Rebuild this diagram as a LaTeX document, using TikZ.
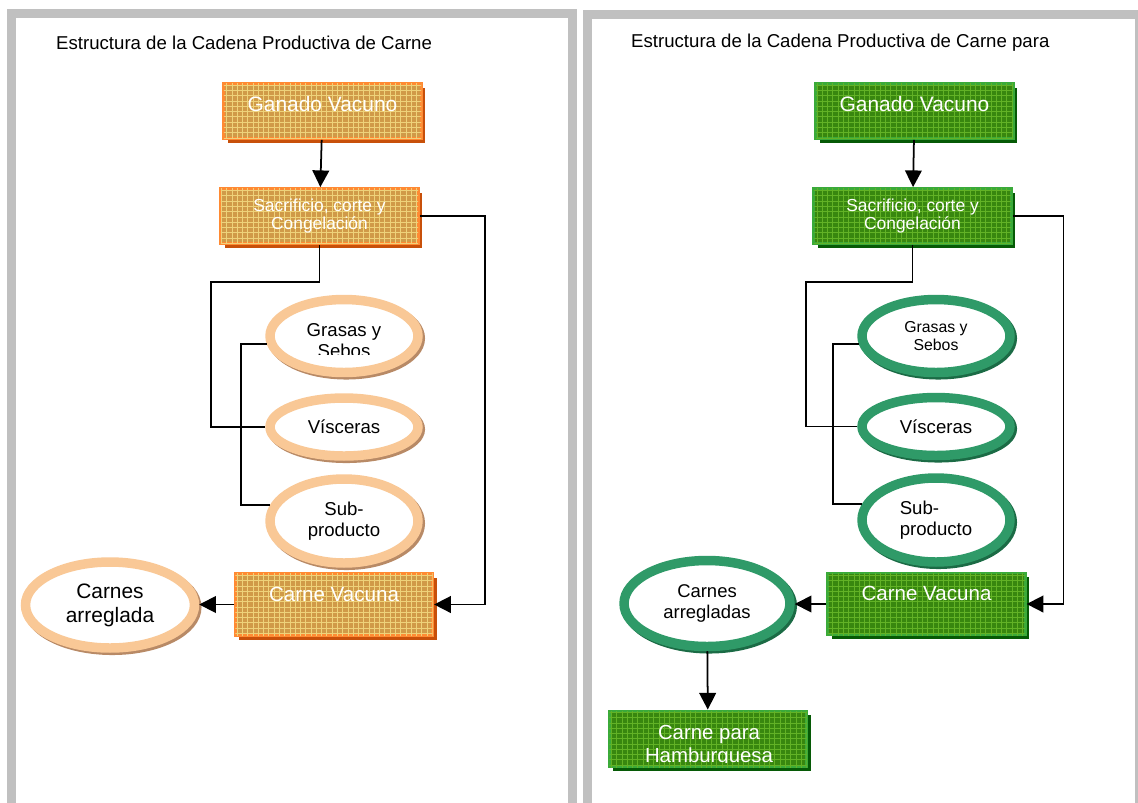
\documentclass[tikz,border=0pt]{standalone}
\usepackage{fontspec}
\setmainfont{Liberation Sans}
\usetikzlibrary{shapes.geometric,arrows.meta,patterns,shadows}

\definecolor{panelgray}{HTML}{C0C0C0}
\definecolor{ofill}{HTML}{D09A48}
\definecolor{ogrid}{HTML}{EED27A}
\definecolor{oline}{HTML}{FF8A33}
\definecolor{oshade}{HTML}{C8500A}
\definecolor{oringc}{HTML}{F9C896}
\definecolor{oringshade}{HTML}{B88A66}
\definecolor{gfill}{HTML}{38870F}
\definecolor{ggrid}{HTML}{62B226}
\definecolor{gline}{HTML}{3AAA3A}
\definecolor{gshade}{HTML}{065A06}
\definecolor{gringc}{HTML}{2F9A68}
\definecolor{gringshade}{HTML}{1B6B45}

\tikzset{
  panel/.style={draw=panelgray, line width=5.1pt},
  heading/.style={anchor=west, font=\fontsize{10.6}{12}\selectfont},
  obox/.style={rectangle, draw=oline, line width=1.6pt, fill=ofill,
    postaction={pattern=grid, pattern color=ogrid},
    drop shadow={shadow xshift=2.3pt, shadow yshift=-2.3pt, fill=oshade, opacity=1},
    minimum width=3.95cm, minimum height=1.1cm, text=white, align=center},
  gbox/.style={rectangle, draw=gline, line width=1.6pt, fill=gfill,
    postaction={pattern=grid, pattern color=ggrid},
    drop shadow={shadow xshift=2.3pt, shadow yshift=-2.3pt, fill=gshade, opacity=1},
    minimum width=3.95cm, minimum height=1.1cm, text=white, align=center},
  boxtext/.style={text=white, align=center},
  orangering/.style={ellipse, draw=oringc, line width=5.4pt, fill=white,
    preaction={draw=oringshade, line width=5.4pt, transform canvas={shift={(1.3pt,-1.3pt)}}},
    align=center, font=\fontsize{10.6}{11.9}\selectfont},
  greenring/.style={ellipse, draw=gringc, line width=5.4pt, fill=white,
    preaction={draw=gringshade, line width=5.4pt, transform canvas={shift={(1.3pt,-1.3pt)}}},
    align=center, font=\fontsize{10.6}{11.9}\selectfont},
  link/.style={line width=1pt},
  arr/.style={line width=1pt, -{Triangle[length=9.5pt,width=9.5pt]}},
}

\begin{document}
\begin{tikzpicture}[x=0.02cm,y=-0.02cm]
\useasboundingbox (0,0) rectangle (1138,802);
\draw[panel] (11.5,13.5) rectangle (572.5,840);
\draw[panel] (587.5,14.5) rectangle (1139.5,840);

% cadena de carne
\node[heading] (titA) at (50,43) {Estructura de la Cadena Productiva de Carne};
\node[obox] (gvA) at (322.5,111) {};
\node[boxtext, font=\fontsize{11.9}{13}\selectfont] (gvAt) at ([yshift=4pt]gvA.center) {Ganado Vacuno};
\node[obox, font=\fontsize{9.9}{10.8}\selectfont] (scA) at (319.5,216) {Sacrificio, corte y\\Congelación};
\node[obox, minimum height=1.24cm] (cvA) at (334,604.5) {};
\node[boxtext, font=\fontsize{11.7}{13}\selectfont] (cvAt) at ([yshift=6pt]cvA.center) {Carne Vacuna};
\node[orangering, minimum width=2.96cm, minimum height=1.46cm] (gsA) at (344,336) {};
\begin{scope}
  \clip (250,300) rectangle (440,354.5);
  \node[align=center, font=\fontsize{10.6}{11.9}\selectfont] (gsAt) at (344,341) {Grasas y\\Sebos};
\end{scope}
\node[orangering, minimum width=2.96cm, minimum height=1.16cm] (viA) at (344,427) {Vísceras};
\node[orangering, minimum width=2.96cm, minimum height=1.68cm] (spA) at (344,521) {Sub-\\producto};
\node[orangering, minimum width=3.38cm, minimum height=1.72cm, font=\fontsize{11.9}{13.6}\selectfont] (caA) at (110,605) {Carnes\\arreglada};

\draw[arr] (gvA) -- (scA);
\draw[link] (scA.south) |- (211,282) |- (viA.west);
\draw[arr] (scA.east) -- (485,216) |- (cvA.east);
\draw[arr] (cvA.west) -- (cvA.west -| caA.east);
\draw[link] (gsA.186) -- ++(-26,0) |- (spA.168);

% cadena de carne para hamburguesa
\node[heading] (titB) at (625,43) {Estructura de la Cadena Productiva de Carne para};
\node[gbox] (gvB) at (914.5,111) {};
\node[boxtext, font=\fontsize{11.9}{13}\selectfont] (gvBt) at ([yshift=4pt]gvB.center) {Ganado Vacuno};
\node[gbox, font=\fontsize{9.9}{10.8}\selectfont] (scB) at (912.5,216) {Sacrificio, corte y\\Congelación};
\node[gbox, minimum height=1.24cm] (cvB) at (926.5,604) {};
\node[boxtext, font=\fontsize{11.7}{13}\selectfont] (cvBt) at ([yshift=6pt]cvB.center) {Carne Vacuna};
\node[greenring, minimum width=2.96cm, minimum height=1.46cm, font=\fontsize{9}{10.2}\selectfont] (gsB) at (936,336) {Grasas y\\Sebos};
\node[greenring, minimum width=2.96cm, minimum height=1.16cm] (viB) at (936,426.5) {Vísceras};
\node[greenring, minimum width=2.96cm, minimum height=1.68cm, align=left] (spB) at (936,520) {Sub-\\producto};
\node[greenring, minimum width=3.32cm, minimum height=1.72cm, font=\fontsize{10.5}{11.9}\selectfont] (caB) at (707,603.5) {Carnes\\arregladas};
\node[gbox, minimum height=1.12cm] (hbB) at (708,739) {};
\begin{scope}
  \clip (600,700) rectangle (820,762);
  \node[boxtext, font=\fontsize{11.6}{13}\selectfont] (hbBt) at (709,746) {Carne para\\Hamburguesa};
\end{scope}

\draw[arr] (gvB) -- (scB);
\draw[link] (scB.south) |- (806,282) |- (viB.west);
\draw[arr] (scB.east) -- (1063.5,216) |- (cvB.east);
\draw[arr] (cvB.west) -- (cvB.west -| caB.east);
\draw[link] (gsB.186) -- ++(-26,0) |- (spB.168);
\draw[arr] (caB) -- (hbB);
\end{tikzpicture}
\end{document}
